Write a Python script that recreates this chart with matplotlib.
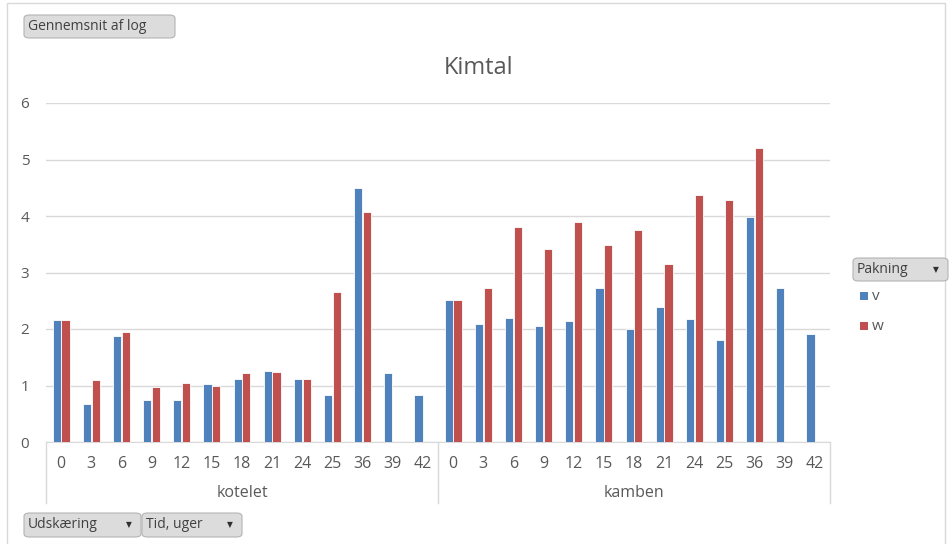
import matplotlib.pyplot as plt
import numpy as np
from matplotlib.patches import FancyBboxPatch, Rectangle
from matplotlib.lines import Line2D
import matplotlib.transforms as mtransforms

plt.rcParams["font.family"] = ["Open Sans", "DejaVu Sans"]

GROUPS = ["kotelet", "kamben"]
WEEKS = ["0", "3", "6", "9", "12", "15", "18", "21", "24", "25", "36", "39", "42"]

# Gennemsnit af log, per Pakning (None = no value)
kotelet_v = [2.16, 0.68, 1.88, 0.74, 0.74, 1.02, 1.11, 1.26, 1.11, 0.84, 4.49, 1.22, 0.84]
kotelet_w = [2.16, 1.09, 1.94, 0.98, 1.05, 1.00, 1.23, 1.24, 1.11, 2.65, 4.07, None, None]
kamben_v = [2.52, 2.08, 2.19, 2.06, 2.14, 2.72, 2.00, 2.39, 2.18, 1.81, 3.99, 2.72, 1.91]
kamben_w = [2.52, 2.73, 3.80, 3.41, 3.90, 3.48, 3.76, 3.15, 4.38, 4.29, 5.20, None, None]

BLUE = "#4F81BD"
RED = "#C0504D"
TXT = "#595959"
GRID = "#D9D9D9"

W, H = 951, 544
fig = plt.figure(figsize=(W / 100, H / 100), dpi=100)

# outer chart border
fig.patches.append(Rectangle((7 / W, -0.01), (945 - 7) / W, (H - 3) / H + 0.01,
                             transform=fig.transFigure, fill=False,
                             edgecolor="#D9D9D9", linewidth=1))

x0, x1, ytop, ybot = 46, 830, 103, 442
ax = fig.add_axes([x0 / W, 1 - ybot / H, (x1 - x0) / W, (ybot - ytop) / H])

v_vals = kotelet_v + kamben_v
w_vals = kotelet_w + kamben_w
n = len(v_vals)
x = np.arange(n)
bw = 0.27
off = 0.145

ax.bar(x - off, v_vals, width=bw, color=BLUE, edgecolor="white", linewidth=0.6, zorder=3)
wx = [i for i, v in zip(x, w_vals) if v is not None]
wy = [v for v in w_vals if v is not None]
ax.bar(np.array(wx) + off, wy, width=bw, color=RED, edgecolor="white", linewidth=0.6, zorder=3)

ax.set_xlim(-0.5, n - 0.5)
ax.set_ylim(0, 6)
ax.set_yticks(range(0, 7))
ax.tick_params(axis="y", length=0, labelsize=11, labelcolor=TXT, pad=12)
for lab in ax.get_yticklabels():
    lab.set_horizontalalignment("right")
ax.yaxis.grid(True, color=GRID, linewidth=1)
ax.set_axisbelow(True)

ax.set_xticks(x)
ax.set_xticklabels(WEEKS * len(GROUPS))
ax.tick_params(axis="x", length=0, labelsize=11.5, labelcolor=TXT, pad=10)

for s in ["top", "right", "left"]:
    ax.spines[s].set_visible(False)
ax.spines["bottom"].set_color(GRID)

# group separators and labels below the axis
trans = mtransforms.blended_transform_factory(ax.transData, fig.transFigure)
sep_top = 1 - ybot / H
sep_bot = 1 - 503 / H
nw = len(WEEKS)
for k in range(len(GROUPS) + 1):
    xs = k * nw - 0.5
    ax.add_line(Line2D([xs, xs], [sep_top, sep_bot], transform=trans,
                       color=GRID, linewidth=1, clip_on=False))
for k, g in enumerate(GROUPS):
    ax.text(k * nw + (nw - 1) / 2, 1 - 493 / H, g, transform=trans,
            ha="center", va="center", fontsize=11.5, color=TXT)

fig.text(479 / W, 1 - 68 / H, "Kimtal", ha="center", va="center", fontsize=17, color=TXT)


def button(x_left, y_top, width, height, label, arrow=True):
    fig.patches.append(FancyBboxPatch((x_left / W, 1 - (y_top + height) / H),
                                      width / W, height / H,
                                      boxstyle="round,pad=0,rounding_size=0.006",
                                      transform=fig.transFigure,
                                      facecolor="#DCDCDC", edgecolor="#B4B4B4",
                                      linewidth=0.8))
    fig.text((x_left + 4) / W, 1 - (y_top + height / 2) / H, label,
             ha="left", va="center", fontsize=10, color="#404040")
    if arrow:
        fig.text((x_left + width - 12) / W, 1 - (y_top + height / 2) / H, "▼",
                 ha="center", va="center", fontsize=5.5, color="#303030",
                 family="DejaVu Sans")


button(24, 15, 151, 23, "Gennemsnit af log", arrow=False)
button(24, 513, 117, 24, "Udskæring")
button(142, 513, 100, 24, "Tid, uger")
button(853, 258, 95, 23, "Pakning")

# legend
for yy, col, lab in [(296, BLUE, "v"), (326, RED, "w")]:
    fig.patches.append(Rectangle((860 / W, 1 - (yy + 4) / H), 8 / W, 8 / H,
                                 transform=fig.transFigure, facecolor=col,
                                 edgecolor="none"))
    fig.text(872 / W, 1 - yy / H, lab, ha="left", va="center", fontsize=11, color=TXT)

fig.savefig("out.png", dpi=100)
